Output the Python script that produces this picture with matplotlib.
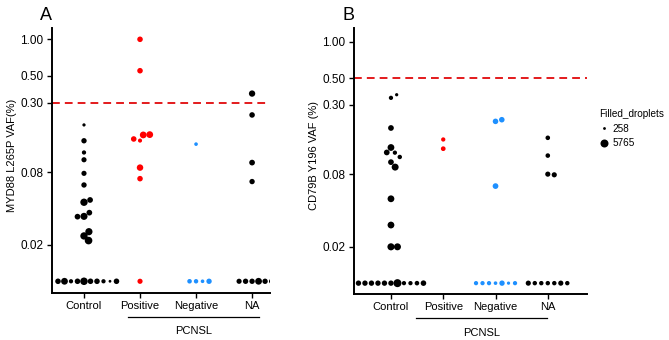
import numpy as np
import matplotlib.pyplot as plt
import matplotlib.transforms as mtransforms
from matplotlib.lines import Line2D

plt.rcParams['font.family'] = ['Liberation Sans', 'DejaVu Sans']

groups = ['Control', 'Positive', 'Negative', 'NA']
group_colors = ['black', '#FF0000', '#1E90FF', 'black']

# VAF (%), 0 = not detected (drawn on the bottom row)
# droplets = number of filled droplets (marker size)
myd88_control = [0.196, 0.145, 0.116, 0.101, 0.078, 0.0625, 0.045, 0.047, 0.0344, 0.0369, 0.0342,
                 0.0237, 0.0257, 0.0217, 0, 0, 0, 0, 0, 0, 0, 0, 0, 0]
myd88_control_drops = [300, 1600, 700, 1400, 1400, 1600, 4500, 2000, 4000, 2000, 2000,
                       4500, 4200, 5000, 4800, 1800, 1800, 1800, 700, 700, 3500, 258, 1800, 1800]
myd88_positive = [1.00, 0.55, 0.1455, 0.162, 0.150, 0.163, 0.087, 0.0705, 0]
myd88_positive_drops = [1800, 1800, 600, 3500, 1800, 3500, 3000, 1800, 1400]
myd88_negative = [0.136, 0, 0, 0, 0]
myd88_negative_drops = [400, 800, 400, 900, 1600]
myd88_na = [0.356, 0.237, 0.0957, 0.0667, 0, 0, 0, 0, 0, 0]
myd88_na_drops = [2800, 1800, 2000, 1600, 1600, 3500, 1600, 1600, 1400, 1400]

cd79b_control = [0.343, 0.364, 0.193, 0.133, 0.1205, 0.121, 0.111, 0.1006, 0.0915, 0.050, 0.0303,
                 0.02, 0.02, 0, 0, 0, 0, 0, 0, 0, 0, 0, 0, 0]
cd79b_control_drops = [700, 300, 2000, 3500, 700, 2000, 800, 2000, 3800, 3500, 3500,
                       4000, 3800, 1600, 5765, 1600, 700, 1600, 700, 1600, 900, 1600, 1800, 1600]
cd79b_positive = [0.155, 0.130]
cd79b_positive_drops = [700, 1000]
cd79b_negative = [0.219, 0.226, 0.0637, 0, 0, 0, 0, 0, 0, 0]
cd79b_negative_drops = [1800, 1800, 2000, 400, 1600, 700, 300, 700, 700, 700]
cd79b_na = [0.160, 0.114, 0.080, 0.079, 0, 0, 0, 0, 0, 0, 0]
cd79b_na_drops = [900, 900, 1400, 1400, 800, 800, 800, 1400, 800, 800, 1400]

yticks = [0.02, 0.08, 0.30, 0.50, 1.00]
ytick_labels = ['0.02', '0.08', '0.30', '0.50', '1.00']

ZERO_FLOOR = 0.01
DROP_MIN, DROP_MAX = 258, 5765


def diam_px(n):
    t = (np.asarray(n, float) - DROP_MIN) / (DROP_MAX - DROP_MIN)
    return 2.8 + 5.2 * np.sqrt(np.clip(t, 0, 1))


def swarm(yd, d):
    # beeswarm style: place points in data order, closest free spot to centre
    xs = []
    for i, yi in enumerate(yd):
        close = [(xs[j], yd[j]) for j in range(i) if abs(yd[j] - yi) < d]
        cands = [0.0]
        cands += [xj + np.sqrt(d * d - (yi - yj) ** 2) for xj, yj in close]
        cands += [xj - np.sqrt(d * d - (yi - yj) ** 2) for xj, yj in close]
        best = None
        for c in cands:
            if all((c - xj) ** 2 + (yi - yj) ** 2 >= 0.999 * d * d for xj, yj in close):
                if best is None or abs(c) < abs(best) - 1e-9:
                    best = c
        xs.append(best)
    return np.array(xs)


fig = plt.figure(figsize=(6.69, 3.40), dpi=100)


def draw_panel(ax, data, ylim, xlim, cutoff, ylabel, ylabel_x, bracket):
    ax.set_yscale('log')
    ax.set_ylim(ylim)
    ax.set_xlim(xlim)
    d = 6.5 * fig.dpi / 100
    for i, (vals, drops) in enumerate(data):
        v = np.where(np.asarray(vals, float) > 0, vals, ZERO_FLOOR)
        pts = ax.transData.transform(np.column_stack([np.full(len(v), i), v]))
        pts[:, 0] += swarm(pts[:, 1], d)
        xy = ax.transData.inverted().transform(pts)
        s = (diam_px(drops) * 72 / fig.dpi) ** 2
        ax.scatter(xy[:, 0], xy[:, 1], s=s, color=group_colors[i], linewidths=0, zorder=3)
    ax.axhline(cutoff, color='#E31A1C', lw=1.4, dashes=(4, 2.6), zorder=2)

    ax.set_yticks(yticks)
    ax.set_yticklabels(ytick_labels)
    ax.yaxis.set_minor_locator(plt.NullLocator())
    ax.set_xticks(range(len(groups)))
    ax.set_xticklabels(groups)
    ax.tick_params(labelsize=8, length=3.6, width=1.0, pad=2.5, colors='black')
    ax.tick_params(axis='y', labelsize=8.5)
    for side in ['top', 'right']:
        ax.spines[side].set_visible(False)
    for side in ['left', 'bottom']:
        ax.spines[side].set_linewidth(1.4)
    ax.set_ylabel(ylabel, fontsize=8)
    ax.yaxis.set_label_coords(ylabel_x, 0.52)

    trans = mtransforms.blended_transform_factory(ax.transData, ax.transAxes)
    ax.plot(bracket, [-0.092, -0.092], color='black', lw=0.9, transform=trans, clip_on=False)
    ax.text(sum(bracket) / 2, -0.145, 'PCNSL', fontsize=8, ha='center', va='center',
            transform=trans)


axA = fig.add_axes([52 / 669, 47 / 340, 218 / 669, 265 / 340])
draw_panel(axA,
           [(myd88_control, myd88_control_drops), (myd88_positive, myd88_positive_drops),
            (myd88_negative, myd88_negative_drops), (myd88_na, myd88_na_drops)],
           (0.0080, 1.24), (-0.571, 3.32), 0.30, 'MYD88 L265P VAF(%)', -0.162, (0.79, 3.12))

axB = fig.add_axes([354 / 669, 46 / 340, 233 / 669, 266 / 340])
draw_panel(axB,
           [(cd79b_control, cd79b_control_drops), (cd79b_positive, cd79b_positive_drops),
            (cd79b_negative, cd79b_negative_drops), (cd79b_na, cd79b_na_drops)],
           (0.00813, 1.30), (-0.707, 3.75), 0.50, 'CD79B Y196 VAF (%)', -0.152, (0.48, 2.98))

fig.text(40 / 669, 1 - 15 / 340, 'A', fontsize=13, va='center')
fig.text(343 / 669, 1 - 15 / 340, 'B', fontsize=13, va='center')

handles = [Line2D([], [], ls='', marker='o', color='black', markeredgewidth=0,
                  markersize=diam_px(n) * 72 / fig.dpi) for n in (DROP_MIN, DROP_MAX)]
fig.legend(handles, [str(DROP_MIN), str(DROP_MAX)], title='Filled_droplets',
           loc='upper left', bbox_to_anchor=(599 / 669, 1 - 109 / 340), frameon=False,
           fontsize=7.2, title_fontsize=7.2, alignment='left', handlelength=1.0,
           handletextpad=0.35, labelspacing=0.45, borderpad=0, borderaxespad=0)

fig.savefig('out.png', dpi=100)
